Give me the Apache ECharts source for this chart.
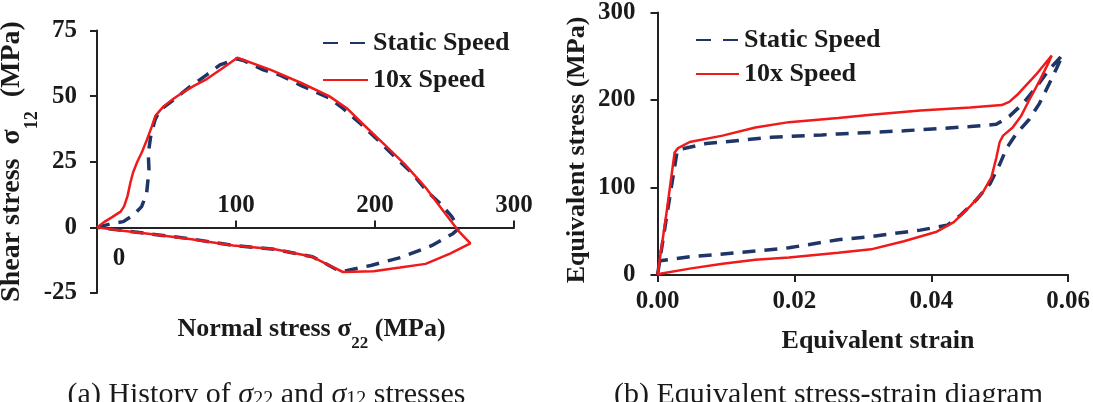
<!DOCTYPE html>
<html>
<head>
<meta charset="utf-8">
<script src="https://cdn.jsdelivr.net/npm/echarts@6/dist/echarts.min.js"></script>
<style>
html,body{margin:0;padding:0;background:#fff;}
#c{width:1093px;height:402px;}
</style>
</head>
<body>
<div id="c"></div>
<script>
// ---------- DATA ----------
// (a) History of sigma22 and sigma12 stresses : [normal stress, shear stress] in MPa
const aStatic = [[0,0],[9.4,1.3],[18.9,2.2],[26.1,4.7],[32.1,7.9],[35.7,13],[37.4,21.9],[36.9,28.2],[38.6,34.6],[41.7,40.9],[45.3,44.7],[54.9,48.5],[66.9,53.6],[78.9,58.1],[88.5,61.9],[100.5,64.2],[105.3,63.6],[119.6,60],[131.7,58],[147,54],[167,49.3],[177,45.3],[190,39.3],[201.7,33.5],[214,27],[226.5,20.8],[237,14],[246.5,9.3],[255,4.3],[259,0.8],[260,-0.6],[256,-2.4],[241,-6.9],[219,-11.4],[197,-14.5],[180,-16.4],[175,-16.8],[167,-14.5],[155,-11.2],[127.5,-8.3],[98,-6.9],[68,-4.4],[38.4,-2.5],[18.6,-1.2],[0,0]];
const aFast = [[0,0],[5,2],[10.6,3.8],[17,6],[19.5,8],[22,12],[24,17],[26,21],[29,25],[32.2,28.5],[36,33.5],[39.4,38.4],[42,42.5],[47.7,46],[55,49],[60,50.8],[70,54],[79,56.5],[90,60.5],[101,64.6],[125,60],[147,55],[167,50],[179.5,45.5],[192,39],[206.7,31.6],[221.5,24],[236.4,15.2],[249,6.3],[260,-1.3],[268.6,-6.1],[254,-10],[236.4,-13.9],[218,-15.3],[199,-16.7],[177,-17],[167,-14.5],[155,-11.2],[128,-8.3],[98,-6.9],[68,-4.5],[38.4,-2.5],[18.6,-1.3],[0,0]];
// (b) Equivalent stress-strain diagram : [equivalent strain, equivalent stress (MPa)]
const bStatic = [[0,0],[0.0015,75],[0.0029,142.9],[0.0071,150.2],[0.0119,153.8],[0.0167,157.5],[0.024,160.1],[0.0264,161.2],[0.036,164.8],[0.0457,169.6],[0.0495,172.2],[0.0514,181.3],[0.0534,195.9],[0.0553,214.3],[0.0572,234.4],[0.0592,251.6],[0.0583,236],[0.0572,217.9],[0.0558,195.9],[0.0543,177.7],[0.0524,161.2],[0.051,144.7],[0.05,126.4],[0.0486,104.4],[0.0466,86],[0.0442,67.8],[0.0423,56.8],[0.0384,51.3],[0.0312,44],[0.0264,40.3],[0.0192,31.1],[0.0119,25.6],[0.0047,20.9],[0.0001,16]];
const bFast = [[0,0],[0.0013,70],[0.0025,140],[0.003,145],[0.0047,152],[0.0095,159.3],[0.0143,168.5],[0.0192,174.7],[0.0264,179.5],[0.0312,183.2],[0.0384,188],[0.0457,191.5],[0.0503,194.2],[0.0514,197.8],[0.0527,206.9],[0.0553,228.9],[0.0576,250.9],[0.0572,243.6],[0.0558,221.6],[0.0543,199.7],[0.0531,181.3],[0.0519,168.5],[0.0505,159.3],[0.05,152],[0.0495,133.7],[0.0488,111.8],[0.0476,95.3],[0.0457,78.8],[0.0433,60.4],[0.0408,49.5],[0.036,38.5],[0.0312,29.3],[0.0264,25.5],[0.0192,20],[0.0143,17.5],[0.0095,12.8],[0.0047,7.3],[0.0006,1.8],[0,0]];
const seriesNames = ['Static Speed','10x Speed'];
const aXTicks = {min:0,max:300,step:100};
const aYTicks = {min:-25,max:75,step:25};
const bXTicks = {min:0,max:0.06,step:0.02};
const bYTicks = {min:0,max:300,step:100};

// ---------- STYLE ----------
const FONT = '"Liberation Serif", serif';
const TXT = '#1a1a1a';
const AX = '#222';
const NAVY = '#1f3566';
const RED = '#f01a1a';

const lbl = (extra) => Object.assign({fontFamily:FONT,fontWeight:'bold',fontSize:25,color:TXT}, extra||{});
const axLine = {show:true,lineStyle:{color:AX,width:2}};
const axTick = {show:true,length:7,lineStyle:{color:AX,width:2}};

const chart = echarts.init(document.getElementById('c'), null, {renderer:'canvas'});

function richTitle(x, y, rot, text, rich) {
  return {type:'text', x:x, y:y, rotation:rot, silent:true,
    style:{text:text, rich:rich, fill:TXT, align:'center', verticalAlign:'middle', textAlign:'center', textVerticalAlign:'middle',
      font:"bold 26px " + FONT}};
}
const titleRich = (pad, size, subSize) => ({
  m:{fontFamily:FONT,fontWeight:'bold',fontSize:size||26,fill:TXT},
  s:{fontFamily:FONT,fontWeight:'bold',fontSize:subSize||17,fill:TXT,padding:[pad,0,0,0]}
});
const capRich = {
  n:{fontFamily:FONT,fontSize:30,fill:TXT},
  i:{fontFamily:FONT,fontSize:30,fontStyle:'italic',fill:TXT},
  s:{fontFamily:FONT,fontSize:20,fill:TXT,padding:[10,0,0,0]}
};
const legendText = {fontFamily:FONT,fontWeight:'bold',fontSize:26,color:TXT,lineHeight:30};

// pixel position of the zero shear line in panel (a) (grid top 30.5 .. bottom 293)
const aZeroBottom = 402 - (30.5 + (293 - 30.5) * (aYTicks.max - 0) / (aYTicks.max - aYTicks.min));

const option = {
  backgroundColor:'#fff',
  animation:false,
  textStyle:{fontFamily:FONT},
  grid:[
    {left:97,right:1093-514,top:30.5,bottom:402-293},
    {left:657.5,right:21,top:2,bottom:127},
    {left:97,right:1093-514,top:30.5,bottom:aZeroBottom}
  ],
  xAxis:[
    {gridIndex:0,type:'value',min:aXTicks.min,max:aXTicks.max,interval:aXTicks.step,show:false},
    {gridIndex:1,type:'value',min:bXTicks.min,max:bXTicks.max,interval:bXTicks.step,
     axisLine:Object.assign({onZero:false},axLine),axisTick:axTick,splitLine:{show:false},
     axisLabel:lbl({margin:14,formatter:v=>v.toFixed(2)})},
    {gridIndex:2,type:'value',min:aXTicks.min,max:aXTicks.max,interval:aXTicks.step,position:'bottom',
     axisLine:Object.assign({onZero:false},axLine),axisTick:Object.assign({inside:true},axTick),splitLine:{show:false},
     axisLabel:lbl({inside:true,showMinLabel:false,margin:9})}
  ],
  yAxis:[
    {gridIndex:0,type:'value',min:aYTicks.min,max:aYTicks.max,interval:aYTicks.step,
     axisLine:Object.assign({onZero:false},axLine),axisTick:axTick,splitLine:{show:false},
     axisLabel:lbl({margin:20})},
    {gridIndex:1,type:'value',min:bYTicks.min,max:bYTicks.max,interval:bYTicks.step,
     axisLine:Object.assign({onZero:false},axLine),axisTick:axTick,splitLine:{show:false},
     axisLabel:lbl({margin:22})},
    {gridIndex:2,type:'value',min:0,max:1,show:false}
  ],
  legend:[
    {orient:'vertical',left:322,top:28,padding:0,itemWidth:45,itemHeight:14,itemGap:7,
     itemStyle:{opacity:0},textStyle:legendText,
     data:[{name:seriesNames[0],lineStyle:{type:[15,12]}},{name:seriesNames[1]}]},
    {orient:'vertical',left:695,top:25,padding:0,itemWidth:43,itemHeight:14,itemGap:4,
     itemStyle:{opacity:0},textStyle:legendText,
     data:[{name:seriesNames[0],lineStyle:{type:[15,12]}},{name:seriesNames[1]}]}
  ],
  series:[
    {name:seriesNames[0],type:'line',xAxisIndex:0,yAxisIndex:0,data:aStatic,symbol:'none',showSymbol:false,
     lineStyle:{color:NAVY,width:3.5,type:[13,9]},itemStyle:{color:NAVY},z:2},
    {name:seriesNames[1],type:'line',xAxisIndex:0,yAxisIndex:0,data:aFast,symbol:'none',showSymbol:false,
     lineStyle:{color:RED,width:2.5},itemStyle:{color:RED},z:3},
    {name:seriesNames[0],type:'line',xAxisIndex:1,yAxisIndex:1,data:bStatic,symbol:'none',showSymbol:false,
     lineStyle:{color:NAVY,width:3.5,type:[13,9]},itemStyle:{color:NAVY},z:2},
    {name:seriesNames[1],type:'line',xAxisIndex:1,yAxisIndex:1,data:bFast,symbol:'none',showSymbol:false,
     lineStyle:{color:RED,width:2.5},itemStyle:{color:RED},z:3}
  ],
  graphic:[
    richTitle(12,161.5,Math.PI/2,'{m|Shear stress  σ}{s|12}{m|  (MPa)}',titleRich(40,28,18)),
    richTitle(311.5,329,0,'{m|Normal stress σ}{s|22}{m| (MPa)}',titleRich(30)),
    richTitle(577,150,Math.PI/2,'{m|Equivalent stress (MPa)}',titleRich(0)),
    richTitle(878,341,0,'{m|Equivalent strain}',titleRich(0)),
    {type:'text',x:119,y:259,silent:true,style:{text:'0',fill:TXT,font:"bold 25px "+FONT,align:'center',verticalAlign:'middle',textAlign:'center',textVerticalAlign:'middle'}},
    {type:'text',x:266.5,y:395,silent:true,style:{text:'{n|(a) History of }{i|σ}{s|22}{n| and }{i|σ}{s|12}{n| stresses}',rich:capRich,fill:TXT,font:"30px "+FONT,align:'center',verticalAlign:'middle',textAlign:'center',textVerticalAlign:'middle'}},
    {type:'text',x:828.5,y:395,silent:true,style:{text:'{n|(b) Equivalent stress-strain diagram}',rich:capRich,fill:TXT,font:"30px "+FONT,align:'center',verticalAlign:'middle',textAlign:'center',textVerticalAlign:'middle'}}
  ]
};
chart.setOption(option);
</script>
</body>
</html>
